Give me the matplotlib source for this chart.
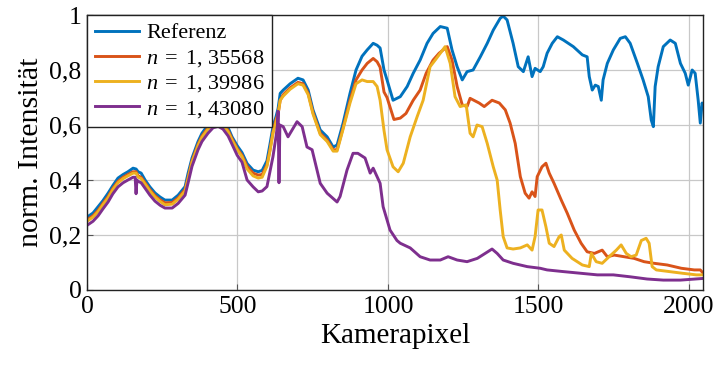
import matplotlib
matplotlib.use("Agg")
import matplotlib.pyplot as plt
from matplotlib.ticker import FuncFormatter

plt.rcParams['font.family'] = ['Liberation Serif', 'DejaVu Serif']
plt.rcParams['mathtext.fontset'] = 'custom'
plt.rcParams['mathtext.rm'] = 'Liberation Serif'
plt.rcParams['mathtext.it'] = 'Liberation Serif:italic'

labels = ['Referenz', r'$n\;=\;1,\,35568$', r'$n\;=\;1,\,39986$', r'$n\;=\;1,\,43080$']
colors = ['#0072BD', '#D95319', '#EDB120', '#7E2F8E']

ref_x = [0, 20, 37, 53, 70, 86, 103, 120, 136, 153, 163, 170, 180, 193, 209, 226, 243, 259, 283, 303,
         326, 336, 349, 359, 369, 382, 402, 419, 436, 452, 469, 482, 499, 515, 532, 552, 569, 582, 598, 608,
         618, 628, 635, 642, 652, 675, 701, 718, 735, 751, 775, 798, 818, 831, 851, 874, 894, 914, 931, 951,
         964, 974, 987, 997, 1017, 1041, 1064, 1084, 1107, 1130, 1150, 1174, 1197, 1213, 1230, 1247, 1263, 1283, 1307, 1330,
         1350, 1373, 1383, 1396, 1416, 1433, 1450, 1466, 1479, 1489, 1506, 1516, 1529, 1546, 1563, 1583, 1616, 1646, 1662, 1669,
         1679, 1689, 1699, 1709, 1715, 1729, 1749, 1772, 1789, 1805, 1829, 1848, 1865, 1875, 1882, 1888, 1898, 1915, 1938, 1955,
         1972, 1988, 1998, 2011, 2021, 2031, 2038, 2044, 2047]
ref_y = [0.265, 0.28, 0.303, 0.325, 0.352, 0.38, 0.407, 0.42, 0.43, 0.443, 0.44, 0.43, 0.425, 0.40, 0.375, 0.353, 0.338, 0.327, 0.327, 0.345,
         0.376, 0.425, 0.48, 0.51, 0.54, 0.57, 0.60, 0.62, 0.625, 0.615, 0.59, 0.557, 0.525, 0.50, 0.46, 0.436, 0.43, 0.435, 0.47, 0.53,
         0.594, 0.63, 0.66, 0.715, 0.727, 0.75, 0.77, 0.764, 0.727, 0.655, 0.582, 0.557, 0.52, 0.527, 0.607, 0.715, 0.80, 0.85, 0.873, 0.897,
         0.89, 0.88, 0.80, 0.764, 0.69, 0.703, 0.74, 0.788, 0.836, 0.897, 0.933, 0.958, 0.952, 0.873, 0.812, 0.764, 0.794, 0.80, 0.848, 0.897,
         0.945, 0.988, 0.996, 0.982, 0.897, 0.812, 0.794, 0.848, 0.776, 0.806, 0.794, 0.812, 0.861, 0.897, 0.921, 0.909, 0.885, 0.855, 0.848, 0.776,
         0.727, 0.745, 0.74, 0.69, 0.764, 0.824, 0.873, 0.915, 0.921, 0.897, 0.824, 0.764, 0.703, 0.618, 0.594, 0.74, 0.812, 0.885, 0.909, 0.897,
         0.824, 0.788, 0.745, 0.80, 0.788, 0.69, 0.607, 0.68, 0.667]

n1_x = [0, 20, 37, 53, 70, 86, 103, 120, 136, 153, 163, 170, 180, 193, 209, 226, 243, 259, 283, 303,
        326, 336, 349, 359, 369, 382, 402, 419, 436, 452, 469, 482, 499, 515, 532, 552, 569, 582, 598, 608,
        618, 628, 635, 642, 652, 675, 701, 718, 735, 751, 775, 798, 818, 831, 851, 874, 894, 914, 931, 951,
        964, 974, 987, 997, 1020, 1041, 1060, 1084, 1107, 1127, 1150, 1170, 1197, 1213, 1230, 1247, 1263, 1273, 1303, 1320,
        1346, 1370, 1390, 1406, 1423, 1440, 1456, 1469, 1479, 1489, 1496, 1512, 1525, 1536, 1552, 1576, 1596, 1619, 1642, 1662,
        1686, 1712, 1729, 1752, 1785, 1818, 1851, 1885, 1928, 1975, 2018, 2038, 2047]
n1_y = [0.255, 0.27, 0.29, 0.315, 0.34, 0.37, 0.395, 0.41, 0.42, 0.43, 0.43, 0.415, 0.41, 0.39, 0.365, 0.343, 0.328, 0.317, 0.318, 0.335,
        0.366, 0.41, 0.47, 0.50, 0.53, 0.56, 0.59, 0.61, 0.615, 0.605, 0.58, 0.55, 0.515, 0.49, 0.45, 0.425, 0.418, 0.42, 0.455, 0.51,
        0.575, 0.62, 0.64, 0.69, 0.71, 0.735, 0.755, 0.75, 0.715, 0.645, 0.57, 0.545, 0.51, 0.51, 0.59, 0.69, 0.764, 0.80, 0.824, 0.842,
        0.83, 0.81, 0.72, 0.70, 0.62, 0.625, 0.642, 0.69, 0.727, 0.788, 0.836, 0.861, 0.885, 0.836, 0.74, 0.673, 0.667, 0.697, 0.68, 0.667,
        0.69, 0.68, 0.655, 0.607, 0.533, 0.412, 0.352, 0.334, 0.357, 0.34, 0.412, 0.448, 0.461, 0.425, 0.388, 0.327, 0.279, 0.218, 0.17, 0.139,
        0.133, 0.145, 0.121, 0.127, 0.121, 0.115, 0.103, 0.097, 0.091, 0.079, 0.073, 0.073, 0.062]

n2_x = [0, 20, 37, 53, 70, 86, 103, 120, 136, 153, 163, 170, 180, 193, 209, 226, 243, 259, 283, 303,
        326, 336, 349, 359, 369, 382, 402, 419, 436, 452, 469, 482, 499, 515, 532, 552, 569, 582, 598, 608,
        618, 628, 635, 642, 652, 675, 701, 718, 735, 751, 775, 798, 818, 831, 851, 874, 894, 914, 931, 951,
        964, 974, 987, 997, 1017, 1034, 1051, 1074, 1097, 1117, 1140, 1157, 1174, 1190, 1207, 1223, 1240, 1260, 1273, 1283,
        1296, 1313, 1330, 1350, 1363, 1373, 1383, 1396, 1416, 1440, 1463, 1479, 1489, 1499, 1512, 1525, 1536, 1552, 1569, 1576,
        1586, 1612, 1646, 1669, 1676, 1692, 1712, 1735, 1759, 1775, 1792, 1808, 1825, 1842, 1858, 1868, 1878, 1892, 1935, 1978,
        2025, 2047]
n2_y = [0.25, 0.265, 0.285, 0.31, 0.335, 0.365, 0.39, 0.405, 0.415, 0.425, 0.425, 0.41, 0.405, 0.385, 0.36, 0.338, 0.322, 0.31, 0.312, 0.33,
        0.36, 0.405, 0.465, 0.495, 0.525, 0.555, 0.585, 0.605, 0.61, 0.60, 0.575, 0.545, 0.51, 0.485, 0.44, 0.415, 0.407, 0.41, 0.45, 0.505,
        0.57, 0.61, 0.64, 0.69, 0.705, 0.73, 0.75, 0.745, 0.71, 0.64, 0.565, 0.54, 0.505, 0.505, 0.585, 0.68, 0.75, 0.764, 0.758, 0.758,
        0.74, 0.69, 0.58, 0.51, 0.448, 0.43, 0.461, 0.557, 0.63, 0.69, 0.812, 0.836, 0.861, 0.885, 0.824, 0.703, 0.667, 0.673, 0.57, 0.557,
        0.60, 0.594, 0.533, 0.448, 0.40, 0.291, 0.194, 0.153, 0.149, 0.153, 0.164, 0.145, 0.194, 0.291, 0.291, 0.23, 0.17, 0.158, 0.194, 0.20,
        0.145, 0.115, 0.091, 0.085, 0.133, 0.103, 0.097, 0.121, 0.145, 0.164, 0.133, 0.121, 0.127, 0.18, 0.188, 0.17, 0.085, 0.073, 0.067, 0.061,
        0.055, 0.055]

n3_x = [0, 20, 37, 53, 70, 86, 103, 120, 136, 153, 160, 163, 166, 170, 180, 193, 209, 226, 243, 259,
        283, 303, 326, 336, 349, 359, 369, 382, 402, 419, 436, 452, 469, 482, 499, 515, 532, 552, 569, 582,
        598, 618, 628, 633, 635, 638, 641, 652, 668, 698, 715, 731, 748, 775, 798, 831, 841, 864, 884, 900,
        924, 941, 951, 964, 974, 984, 1007, 1030, 1041, 1074, 1107, 1140, 1174, 1200, 1230, 1263, 1297, 1323, 1346, 1363,
        1383, 1416, 1463, 1506, 1529, 1582, 1639, 1696, 1749, 1805, 1861, 1915, 1972, 2047]
n3_y = [0.235, 0.25, 0.27, 0.295, 0.32, 0.35, 0.375, 0.39, 0.40, 0.41, 0.41, 0.35, 0.40, 0.395, 0.39, 0.37, 0.345, 0.323, 0.308, 0.298,
        0.298, 0.315, 0.345, 0.39, 0.45, 0.48, 0.51, 0.54, 0.57, 0.59, 0.595, 0.585, 0.56, 0.53, 0.49, 0.465, 0.40, 0.375, 0.357, 0.36,
        0.376, 0.485, 0.557, 0.60, 0.65, 0.39, 0.60, 0.594, 0.557, 0.612, 0.594, 0.52, 0.51, 0.388, 0.352, 0.32, 0.34, 0.436, 0.497, 0.497,
        0.48, 0.425, 0.443, 0.412, 0.388, 0.303, 0.218, 0.18, 0.17, 0.153, 0.121, 0.109, 0.109, 0.121, 0.109, 0.103, 0.115, 0.133, 0.149, 0.133,
        0.109, 0.097, 0.085, 0.079, 0.073, 0.067, 0.061, 0.055, 0.055, 0.048, 0.04, 0.036, 0.036, 0.042]

x_ticks = [0, 500, 1000, 1500, 2000]
y_ticks = [0, 0.2, 0.4, 0.6, 0.8, 1.0]

fig = plt.figure(figsize=(7.17, 3.65), dpi=100)
ax = fig.add_axes([87/717, 75/365, 616/717, 275/365])

series = [(ref_x, ref_y), (n1_x, n1_y), (n2_x, n2_y), (n3_x, n3_y)]
for (xs, ys), lab, c in zip(series, labels, colors):
    ax.plot(xs, ys, color=c, lw=2.1, label=lab, solid_joinstyle='round')

ax.set_xlim(0, 2047)
ax.set_ylim(0, 1)
ax.set_xticks(x_ticks)
ax.set_yticks(y_ticks)
ax.yaxis.set_major_formatter(FuncFormatter(lambda v, p: ('%g' % round(v, 1)).replace('.', ',')))
ax.grid(True, color='#c8c8c8', lw=0.9)
ax.set_axisbelow(True)
ax.tick_params(direction='in', length=4, width=0.8, labelsize=18.5, color='#555555', pad=4)
for s in ax.spines.values():
    s.set_linewidth(1.0)
    s.set_color('#222222')
ax.set_xlabel('Kamerapixel', fontsize=21, labelpad=4)
ax.set_ylabel('norm. Intensität', fontsize=21.5, labelpad=4)

leg = ax.legend(loc='upper left', bbox_to_anchor=(0, 1), borderaxespad=0, fontsize=16,
                frameon=True, fancybox=False, framealpha=1, edgecolor='#222222',
                handlelength=2.0, handletextpad=0.3, labelspacing=0.2, borderpad=0.35)
leg.get_frame().set_linewidth(1.0)

fig.savefig('out.png', dpi=100)
